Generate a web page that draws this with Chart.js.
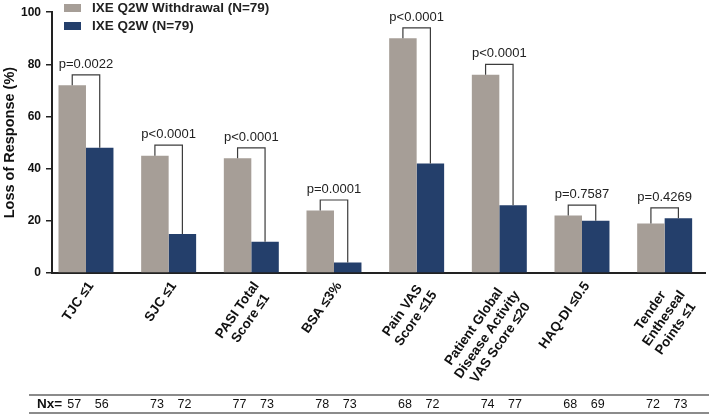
<!DOCTYPE html>
<html>
<head>
<meta charset="utf-8">
<script src="https://cdn.jsdelivr.net/npm/chart.js@4/dist/chart.umd.min.js"></script>
<style>
  html, body { margin: 0; padding: 0; background: #fff; }
</style>
</head>
<body>
<canvas id="myChart" width="709" height="416"></canvas>
<script>
const categories = [
    'TJC \u22641',
    'SJC \u22641',
    ['PASI Total', 'Score \u22641'],
    'BSA \u22643%',
    ['Pain VAS', 'Score \u226415'],
    ['Patient Global', 'Disease Activity', 'VAS Score \u226420'],
    'HAQ-DI \u22640.5',
    ['Tender', 'Entheseal', 'Points \u22641']
];

const withdrawal = [72, 45, 44, 24, 90, 76, 22, 19];
const continued = [48, 15, 12, 4, 42, 26, 20, 21];

const pValues = ['p=0.0022', 'p<0.0001', 'p<0.0001', 'p=0.0001', 'p<0.0001', 'p<0.0001', 'p=0.7587', 'p=0.4269'];

const nWithdrawal = [57, 73, 77, 78, 68, 74, 68, 72];
const nContinued = [56, 72, 73, 73, 72, 77, 69, 73];

const yTicks = [0, 20, 40, 60, 80, 100];

const FONT = "'Liberation Sans', Arial, sans-serif";
const GREY = '#a69e97';
const NAVY = '#243f6b';
const LABEL_FONT = 'bold 13.5px ' + FONT;

// rotated labels are right aligned by Chart.js; pad the shorter lines
// with trailing spaces so each block reads centred like the original
const measureCtx = document.createElement('canvas').getContext('2d');
measureCtx.font = LABEL_FONT;
function centreLines(label) {
    if (!Array.isArray(label)) return label;
    const space = measureCtx.measureText(' ').width;
    const widths = label.map(s => measureCtx.measureText(s).width);
    const widest = Math.max.apply(null, widths);
    return label.map(function (s, i) {
        const n = Math.round((widest - widths[i]) / 2 / space);
        return s + ' '.repeat(n);
    });
}
const tickLabels = categories.map(centreLines);

// brackets with p-values above each pair of bars
const bracketPlugin = {
    id: 'brackets',
    afterDatasetsDraw(chart) {
        const ctx = chart.ctx;
        const yScale = chart.scales.y;
        const m0 = chart.getDatasetMeta(0);
        const m1 = chart.getDatasetMeta(1);
        ctx.save();
        ctx.strokeStyle = '#3c3c3c';
        ctx.lineWidth = 1.2;
        ctx.fillStyle = '#222';
        ctx.font = '13px ' + FONT;
        ctx.textAlign = 'center';
        ctx.textBaseline = 'alphabetic';
        for (let i = 0; i < categories.length; i++) {
            const g = m0.data[i];
            const b = m1.data[i];
            const top = yScale.getPixelForValue(Math.max(withdrawal[i], continued[i]) + 4);
            ctx.beginPath();
            ctx.moveTo(g.x, g.y);
            ctx.lineTo(g.x, top);
            ctx.lineTo(b.x, top);
            ctx.lineTo(b.x, b.y);
            ctx.stroke();
            ctx.fillText(pValues[i], (g.x + b.x) / 2, top - 7);
        }
        ctx.restore();
    }
};

// legend at the top left and the Nx= row at the bottom
const extrasPlugin = {
    id: 'extras',
    afterDraw(chart) {
        const ctx = chart.ctx;
        ctx.save();

        chart.data.datasets.forEach(function (ds, i) {
            const y = 4 + i * 18;
            ctx.fillStyle = ds.backgroundColor;
            ctx.fillRect(64, y, 17, 8);
            ctx.fillStyle = '#222';
            ctx.font = 'bold 13.5px ' + FONT;
            ctx.textAlign = 'left';
            ctx.textBaseline = 'middle';
            ctx.fillText(ds.label, 92, y + 4.5);
        });

        ctx.strokeStyle = '#666';
        ctx.lineWidth = 1.5;
        ctx.beginPath();
        ctx.moveTo(29, 395);
        ctx.lineTo(chart.width, 395);
        ctx.moveTo(29, 413);
        ctx.lineTo(chart.width, 413);
        ctx.stroke();

        ctx.fillStyle = '#111';
        ctx.font = 'bold 13.5px ' + FONT;
        ctx.textAlign = 'left';
        ctx.textBaseline = 'middle';
        ctx.fillText('Nx=', 37, 404.5);

        const m0 = chart.getDatasetMeta(0);
        const m1 = chart.getDatasetMeta(1);
        ctx.font = '12.5px ' + FONT;
        ctx.textAlign = 'center';
        for (let i = 0; i < categories.length; i++) {
            ctx.fillText(String(nWithdrawal[i]), m0.data[i].x + 2, 404.5);
            ctx.fillText(String(nContinued[i]), m1.data[i].x + 2, 404.5);
        }
        ctx.restore();
    }
};

const data = {
    datasets: [{
            label: 'IXE Q2W Withdrawal (N=79)',
            backgroundColor: GREY,
            data: withdrawal.map((v, i) => ({ x: i, y: v })),
        },
        {
            label: 'IXE Q2W (N=79)',
            backgroundColor: NAVY,
            data: continued.map((v, i) => ({ x: i, y: v })),
        }
    ]
};

const config = {
    type: 'bar',
    data: data,
    options: {
        responsive: false,
        animation: false,
        categoryPercentage: 0.665,
        barPercentage: 1.0,
        layout: {
            padding: { top: 7, right: 3, left: 0, bottom: 0 }
        },
        plugins: {
            legend: { display: false },
            tooltip: { enabled: false }
        },
        scales: {
            x: {
                type: 'linear',
                offset: false,
                min: -0.411,
                max: 7.5,
                afterFit: function (scale) { scale.height = 143; },
                grid: { display: false, drawTicks: false, offset: false },
                border: { display: true, color: '#222', width: 2 },
                ticks: {
                    stepSize: 1,
                    includeBounds: false,
                    autoSkip: false,
                    minRotation: 55,
                    maxRotation: 55,
                    padding: 6,
                    labelOffset: 5,
                    color: '#111',
                    font: { family: FONT, size: 13.5, weight: 'bold', lineHeight: 1.15 },
                    callback: function (value) {
                        return Number.isInteger(value) ? tickLabels[value] : '';
                    }
                }
            },
            y: {
                min: 0,
                max: 100,
                afterFit: function (scale) { scale.width = 52; },
                afterBuildTicks: function (scale) {
                    scale.ticks = yTicks.map(v => ({ value: v }));
                },
                grid: { drawOnChartArea: false, drawTicks: true, tickLength: 6, color: '#222', lineWidth: 1.5 },
                border: { display: true, color: '#222', width: 2 },
                ticks: {
                    padding: 5,
                    color: '#111',
                    font: { family: FONT, size: 12, weight: 'bold' }
                },
                title: {
                    display: true,
                    text: 'Loss of Response (%)',
                    color: '#111',
                    font: { family: FONT, size: 14.5, weight: 'bold' },
                    padding: { top: 1, bottom: 0 }
                }
            }
        }
    },
    plugins: [bracketPlugin, extrasPlugin]
};

var myChart = new Chart(
    document.getElementById('myChart'),
    config
);
</script>
</body>
</html>
